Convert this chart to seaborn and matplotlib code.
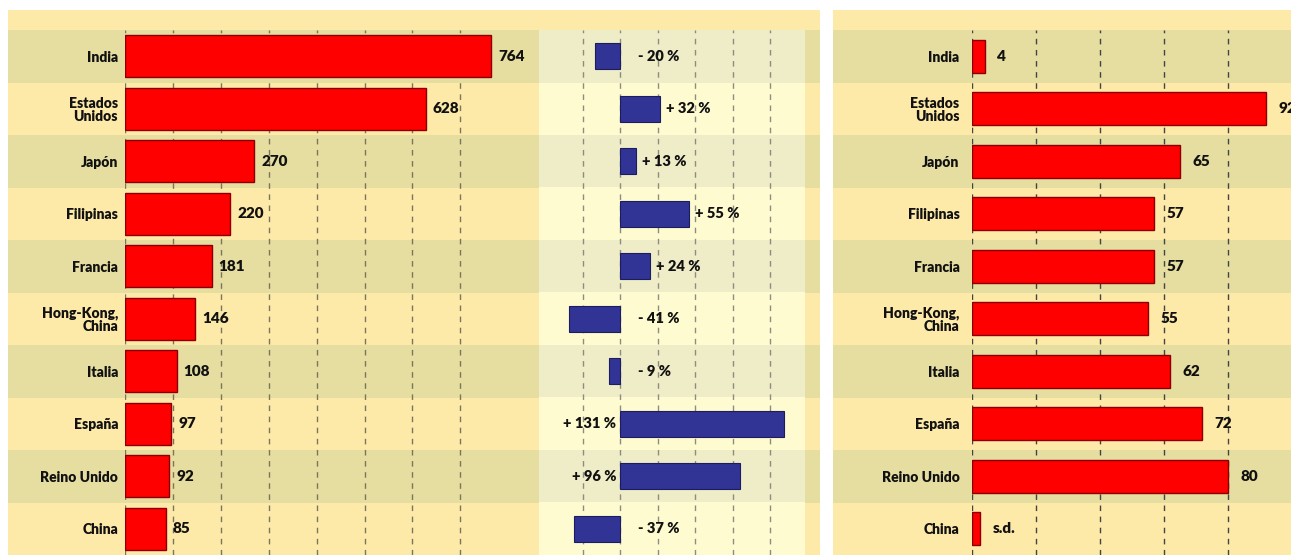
import matplotlib
matplotlib.use("Agg")
from matplotlib import pyplot as plt
import pandas as pd
import seaborn as sns

# data
countries = ["India", "Estados\nUnidos", "Japón", "Filipinas", "Francia",
             "Hong-Kong,\nChina", "Italia", "España", "Reino Unido", "China"]
totals = [764, 628, 270, 220, 181, 146, 108, 97, 92, 85]
change_pct = [-20, 32, 13, 55, 24, -41, -9, 131, 96, -37]
share = [4, 92, 65, 57, 57, 55, 62, 72, 80, 2.5]
share_labels = ["4", "92", "65", "57", "57", "55", "62", "72", "80", "s.d."]

df = pd.DataFrame({"pais": countries, "total": totals,
                   "cambio": change_pct, "cuota": share})

sns.set_style("white")
plt.rcParams["font.family"] = ["Lato", "DejaVu Sans"]

W, H = 1291, 556
fig = plt.figure(figsize=(W / 100, H / 100), dpi=100)
fig.patch.set_facecolor("white")


def box(x0, y0, x1, y1):
    return [x0 / W, 1 - y1 / H, (x1 - x0) / W, (y1 - y0) / H]


LIGHT = "#fde9a8"
DARK = "#e5dea0"
MID_LIGHT = "#fffbd0"
MID_DARK = "#efedc8"
RED = "#ff0000"
BLUE = "#313494"
GRID = "#7d745c"
ROW_TOP, ROW_BOT = 30, 555
ROW_H = (ROW_BOT - ROW_TOP) / len(countries)


def background(x0, x1, light, dark, top=10):
    bg = fig.add_axes(box(x0, top, x1, ROW_BOT), zorder=0)
    bg.set_facecolor(light)
    bg.set_ylim(len(countries) - 0.5, -0.5 - (ROW_TOP - top) / ROW_H)
    bg.set_xlim(0, 1)
    for i in range(0, len(countries), 2):
        bg.axhspan(i - 0.5, i + 0.5, color=dark, lw=0)
    bg.set_xticks([])
    bg.set_yticks([])
    for s in bg.spines.values():
        s.set_visible(False)
    return bg


background(8, 820, LIGHT, DARK)
background(539, 805, MID_LIGHT, MID_DARK, top=ROW_TOP)
background(833, 1291, LIGHT, DARK)


def style(ax, ticks, xlim, gcolor):
    ax.set_xlim(*xlim)
    ax.set_ylim(len(countries) - 0.5, -0.5)
    ax.patch.set_visible(False)
    for t in ticks:
        ax.axvline(t, color=gcolor, lw=1, ls=(0, (4, 4)), zorder=0)
    sns.despine(ax=ax, left=True, bottom=True)
    ax.set_xlabel("")
    ax.set_ylabel("")
    ax.set_xticks([])


def country_labels(ax, pad):
    ax.tick_params(axis="y", length=0, pad=pad)
    for lab in ax.get_yticklabels():
        lab.set_fontweight("heavy")
        lab.set_fontsize(10)
        lab.set_linespacing(1.0)
        lab.set_color("#111111")


# left panel: totals
ax1 = fig.add_axes(box(125, ROW_TOP, 539, ROW_BOT), zorder=2)
sns.barplot(data=df, x="total", y="pais", color=RED, saturation=1, width=0.8,
            edgecolor="#8a0000", linewidth=1, ax=ax1, zorder=3)
style(ax1, range(0, 800, 100), (0, 864), GRID)
country_labels(ax1, 5)
ax1.bar_label(ax1.containers[0], labels=[str(v) for v in totals], padding=5,
              fontsize=11, fontweight="heavy", color="#111111")

# middle panel: change in %
ax2 = fig.add_axes(box(539, ROW_TOP, 805, ROW_BOT), zorder=2)
sns.barplot(data=df, x="cambio", y="pais", color=BLUE, saturation=1, width=0.5,
            edgecolor="#1c1d60", linewidth=0.8, ax=ax2, zorder=3)
style(ax2, range(-30, 150, 30), (-64.8, 148), "#8c8c80")
ax2.set_yticks([])
for i, v in enumerate(change_pct):
    txt = ("+ " if v > 0 else "- ") + f"{abs(v)} %"
    kw = dict(va="center", fontsize=10.5, fontweight="heavy", color="#111111")
    if v < 0:
        ax2.text(14, i, txt, ha="left", **kw)
    elif v > 90:
        ax2.text(-3, i, txt, ha="right", **kw)
    else:
        ax2.text(v + 5, i, txt, ha="left", **kw)

# right panel: share
ax3 = fig.add_axes(box(972, ROW_TOP, 1291, ROW_BOT), zorder=2)
sns.barplot(data=df, x="cuota", y="pais", color=RED, saturation=1, width=0.63,
            edgecolor="#8a0000", linewidth=1, ax=ax3, zorder=3)
style(ax3, range(0, 100, 20), (0, 99.7), "#444444")
country_labels(ax3, 9)
ax3.bar_label(ax3.containers[0], labels=share_labels, padding=9,
              fontsize=11, fontweight="heavy", color="#111111")

fig.savefig("out.png", dpi=100)
